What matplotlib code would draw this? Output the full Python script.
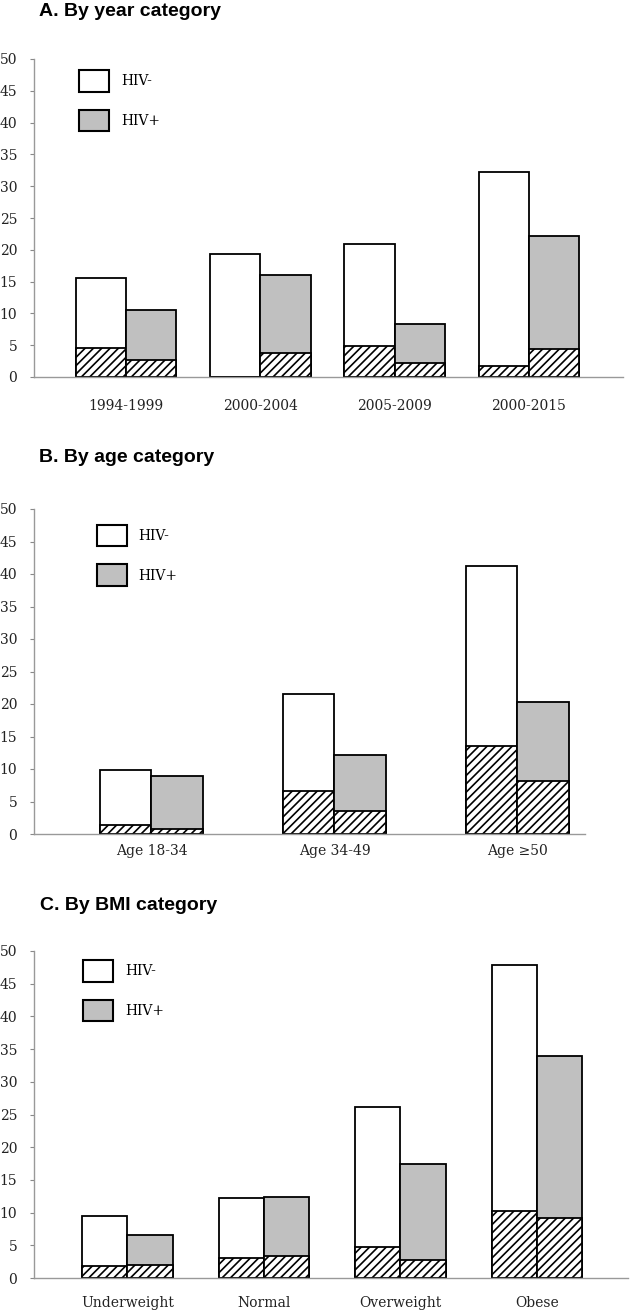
import matplotlib
matplotlib.use('Agg')
import matplotlib.pyplot as plt
from matplotlib.patches import Patch
import numpy as np

plt.rcParams['hatch.linewidth'] = 1.2

# Data
year_cats = ['1994-1999', '2000-2004', '2005-2009', '2000-2015']
year_neg = [15.6, 19.4, 20.9, 32.3]
year_neg_hatch = [4.6, 0.0, 4.9, 1.8]
year_pos = [10.6, 16.1, 8.3, 22.1]
year_pos_hatch = [2.7, 3.7, 2.2, 4.4]

age_cats = ['Age 18-34', 'Age 34-49', 'Age \u226550']
age_neg = [9.9, 21.6, 41.2]
age_neg_hatch = [1.4, 6.6, 13.6]
age_pos = [8.9, 12.2, 20.3]
age_pos_hatch = [0.7, 3.6, 8.2]

bmi_cats = ['Underweight', 'Normal', 'Overweight', 'Obese']
bmi_neg = [9.5, 12.2, 26.1, 47.9]
bmi_neg_hatch = [1.9, 3.0, 4.8, 10.3]
bmi_pos = [6.6, 12.4, 17.5, 33.9]
bmi_pos_hatch = [2.0, 3.4, 2.7, 9.2]

yticks = [0, 5, 10, 15, 20, 25, 30, 35, 40, 45, 50]

W, H = 633., 1310.
fig = plt.figure(figsize=(W / 100, H / 100), dpi=100)

serif = 'DejaVu Serif'
gray = '#c0c0c0'


def panel(rect, cats, neg, neg_h, pos, pos_h, xlim, width, legpos, xpad):
    ax = fig.add_axes(rect)
    x = np.arange(len(cats))
    ax.bar(x - width / 2, neg, width, color='white', edgecolor='black', linewidth=1.3)
    ax.bar(x - width / 2, neg_h, width, color='white', edgecolor='black', linewidth=1.3, hatch='////')
    ax.bar(x + width / 2, pos, width, color=gray, edgecolor='black', linewidth=1.3)
    ax.bar(x + width / 2, pos_h, width, color='white', edgecolor='black', linewidth=1.3, hatch='////')
    ax.set_xlim(xlim)
    ax.set_ylim(0, 50)
    ax.set_yticks(yticks)
    ax.set_xticks(x)
    ax.set_xticklabels(cats, fontfamily=serif, fontsize=10, color='#222222')
    for label in ax.yaxis.get_ticklabels():
        label.set_fontfamily(serif)
        label.set_fontsize(10)
        label.set_color('#222222')
    ax.tick_params(axis='y', length=3, width=0.8, color='#888888', pad=9)
    ax.tick_params(axis='x', length=0, pad=xpad)
    for s in ['top', 'right']:
        ax.spines[s].set_visible(False)
    ax.spines['left'].set_color('#999999')
    ax.spines['bottom'].set_color('#999999')
    ax.spines['left'].set_linewidth(1.0)
    ax.spines['bottom'].set_linewidth(1.0)
    handles = [Patch(facecolor='white', edgecolor='black', linewidth=1.5, label='HIV-'),
               Patch(facecolor=gray, edgecolor='black', linewidth=1.5, label='HIV+')]
    ax.legend(handles=handles, loc='upper left', bbox_to_anchor=legpos, frameon=False,
              prop={'family': serif, 'size': 10}, handlelength=2.16, handleheight=2.0,
              labelspacing=1.3, handletextpad=0.86, borderpad=0, borderaxespad=0)
    return ax


panel([34 / W, 1 - 377 / H, 589 / W, 318 / H], year_cats, year_neg, year_neg_hatch,
      year_pos, year_pos_hatch, (-0.685, 3.70), 0.375, (0.0764, 0.965), 16)
panel([34 / W, 1 - 834 / H, 551 / W, 325 / H], age_cats, age_neg, age_neg_hatch,
      age_pos, age_pos_hatch, (-0.642, 2.369), 0.284, (0.114, 0.951), 7)
panel([34 / W, 1 - 1278 / H, 594 / W, 327 / H], bmi_cats, bmi_neg, bmi_neg_hatch,
      bmi_pos, bmi_pos_hatch, (-0.685, 3.667), 0.333, (0.0825, 0.972), 13)

tfont = dict(family='Liberation Sans', fontweight='bold', fontsize=14, va='center', ha='left')
fig.text(39 / W, 1 - 12 / H, 'A. By year category', **tfont)
fig.text(39 / W, 1 - 457 / H, 'B. By age category', **tfont)
fig.text(40 / W, 1 - 905 / H, 'C. By BMI category', **tfont)

fig.savefig('out.png', dpi=100)
